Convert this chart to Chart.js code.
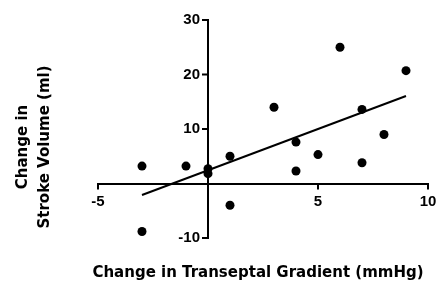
<!DOCTYPE html>
<html>
<head>
<meta charset="utf-8">
<script src="https://cdn.jsdelivr.net/npm/chart.js@4/dist/chart.umd.min.js"></script>
<style>
  body { margin: 0; background: #fff; }
</style>
</head>
<body>
<canvas id="chart" width="437" height="281"></canvas>
<script>
// change in transeptal gradient (mmHg) vs change in stroke volume (ml)
var gradientChange = [-3, -3, -1, 0, 0, 1, 1, 3, 4, 4, 5, 6, 7, 7, 8, 9];
var volumeChange = [3.2, -8.8, 3.2, 2.7, 1.8, 5, -4, 14, 7.6, 2.3, 5.3, 25, 13.6, 3.8, 9, 20.7];

// regression line, ends
var fitX = [-3, 9];
var fitY = [-2.1, 16.05];

var xTitle = 'Change in Transeptal Gradient (mmHg)';
var yTitle = ['Change in', 'Stroke Volume (ml)'];

var points = gradientChange.map(function (x, i) {
    return {x: x, y: volumeChange[i]};
});
var fitLine = fitX.map(function (x, i) {
    return {x: x, y: fitY[i]};
});

// axes cross at 0: tick marks, tick labels and the axis titles are drawn
// here from the scales, the built in ones land on top of the axis lines
// and their padding squeezes the plot area
var crossAxes = {
    id: 'crossAxes',
    afterDraw: function (chart) {
        var ctx = chart.ctx;
        var xs = chart.scales.x, ys = chart.scales.y;
        var x0 = xs.getPixelForValue(0);
        var y0 = ys.getPixelForValue(0);
        ctx.save();
        ctx.strokeStyle = '#000';
        ctx.lineWidth = 2;
        ctx.beginPath();
        xs.ticks.forEach(function (t) {
            if (t.value === 0) return;
            var px = xs.getPixelForValue(t.value);
            ctx.moveTo(px, y0);
            ctx.lineTo(px, y0 + 6);
        });
        ys.ticks.forEach(function (t) {
            if (t.value === 0) return;
            var py = ys.getPixelForValue(t.value);
            ctx.moveTo(x0, py);
            ctx.lineTo(x0 - 6, py);
        });
        ctx.stroke();

        ctx.fillStyle = '#000';
        ctx.font = 'bold 15px "Liberation Sans", Arial, sans-serif';
        ctx.textBaseline = 'middle';
        ctx.textAlign = 'right';
        ys.ticks.forEach(function (t) {
            if (t.value === 0) return;
            ctx.fillText(String(t.value), x0 - 8, ys.getPixelForValue(t.value));
        });
        ctx.textAlign = 'center';
        xs.ticks.forEach(function (t) {
            if (t.value === 0) return;
            ctx.fillText(String(t.value), xs.getPixelForValue(t.value), y0 + 18);
        });

        ctx.font = 'bold 15px "DejaVu Sans"';
        ctx.textBaseline = 'alphabetic';
        ctx.fillText(xTitle, 258, 277);

        var baselines = [27, 49];
        for (var i = 0; i < yTitle.length; i++) {
            ctx.save();
            ctx.translate(baselines[i], 147);
            ctx.rotate(-Math.PI / 2);
            ctx.fillText(yTitle[i], 0, 0);
            ctx.restore();
        }
        ctx.restore();
    }
};

var ctx = document.getElementById('chart').getContext('2d');
var chart = new Chart(ctx, {
    type: 'scatter',
    data: {
        datasets: [
            {
                label: 'Patients',
                data: points,
                backgroundColor: '#000',
                borderColor: '#000',
                pointRadius: 4.5,
                pointBorderWidth: 0
            },
            {
                label: 'Fit',
                data: fitLine,
                showLine: true,
                borderColor: '#000',
                borderWidth: 2,
                pointRadius: 0,
                fill: false
            }
        ]
    },
    options: {
        responsive: false,
        animation: false,
        layout: {
            padding: {left: 98, right: 9, top: 20, bottom: 43}
        },
        plugins: {
            legend: {display: false},
            tooltip: {enabled: false}
        },
        scales: {
            x: {
                type: 'linear',
                position: {y: 0},
                min: -5,
                max: 10,
                ticks: {stepSize: 5, display: false},
                grid: {display: false, drawTicks: false},
                border: {display: true, color: '#000', width: 2}
            },
            y: {
                type: 'linear',
                position: {x: 0},
                min: -10,
                max: 30,
                ticks: {stepSize: 10, display: false},
                grid: {display: false, drawTicks: false},
                border: {display: true, color: '#000', width: 2}
            }
        }
    },
    plugins: [crossAxes]
});
</script>
</body>
</html>
